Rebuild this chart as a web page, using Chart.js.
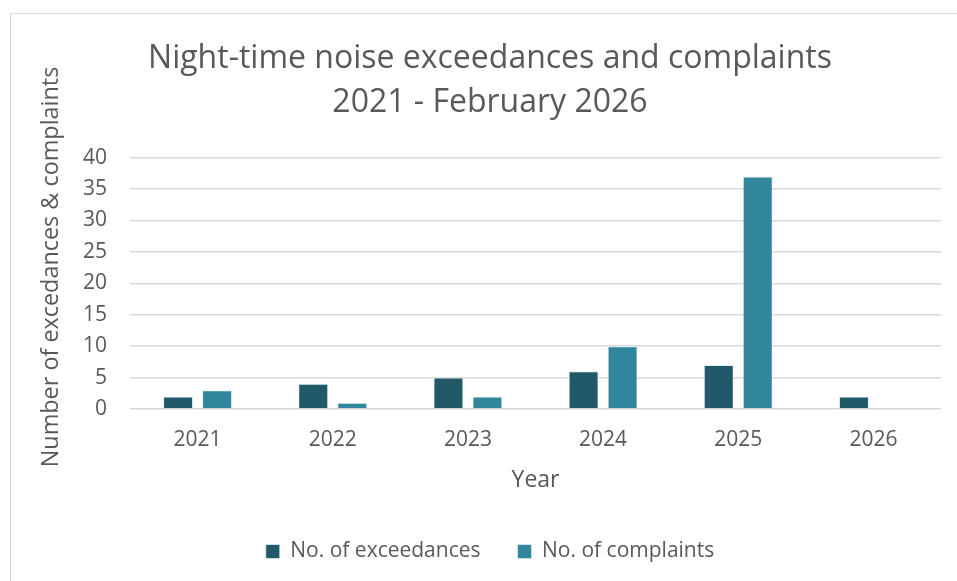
<!DOCTYPE html>
<html>
<head>
<meta charset="utf-8">
<script src="https://cdn.jsdelivr.net/npm/chart.js@4"></script>
<style>
  html, body { margin: 0; padding: 0; background: #ffffff; }
  #wrap { width: 957px; height: 581px; position: relative; }
</style>
</head>
<body>
<div id="wrap"><canvas id="c" width="957" height="581"></canvas></div>
<script>
const categories = ["2021", "2022", "2023", "2024", "2025", "2026"];
const exceedances = [2, 4, 5, 6, 7, 2];
const complaints = [3, 1, 2, 10, 37, 0];
const titleLines = ["Night-time noise exceedances and complaints", "2021 - February 2026"];
const yTitle = "Number of excedances & complaints";
const xTitle = "Year";
const seriesNames = ["No. of exceedances", "No. of complaints"];

const txt = "#595959";
const baseFont = "'Open Sans', 'DejaVu Sans', sans-serif";

const borderPlugin = {
  id: 'outerBorder',
  beforeDraw(chart) {
    const ctx = chart.ctx;
    ctx.save();
    ctx.fillStyle = '#ffffff';
    ctx.fillRect(0, 0, chart.width, chart.height);
    ctx.strokeStyle = '#d9d9d9';
    ctx.lineWidth = 1;
    ctx.strokeRect(10.5, 13.5, chart.width, chart.height);
    ctx.restore();
  }
};

// y-axis title, placed to the left of the y scale
const yTitlePlugin = {
  id: 'yAxisTitle',
  afterDraw(chart) {
    const ctx = chart.ctx;
    const sy = chart.scales.y;
    ctx.save();
    ctx.translate(sy.left + 12, 267);
    ctx.rotate(-Math.PI / 2);
    ctx.fillStyle = txt;
    ctx.font = "23.4px " + baseFont;
    ctx.textAlign = 'center';
    ctx.textBaseline = 'middle';
    ctx.fillText(yTitle, 0, 0);
    ctx.restore();
  }
};

new Chart(document.getElementById('c'), {
  type: 'bar',
  data: {
    labels: categories,
    datasets: [
      { label: seriesNames[0], data: exceedances, backgroundColor: '#215968', borderColor: 'rgba(220,235,240,0.8)', borderWidth: 1 },
      { label: seriesNames[1], data: complaints, backgroundColor: '#31859C', borderColor: 'rgba(220,235,240,0.8)', borderWidth: 1 }
    ]
  },
  plugins: [borderPlugin, yTitlePlugin],
  options: {
    responsive: false,
    animation: false,
    devicePixelRatio: 1,
    layout: { padding: { left: 39, right: 16, top: 13, bottom: 9 } },
    datasets: { bar: { categoryPercentage: 0.577, barPercentage: 0.77 } },
    plugins: {
      title: {
        display: true,
        text: titleLines,
        color: txt,
        font: { family: baseFont, size: 32, weight: 'normal', lineHeight: 1.4 },
        padding: { top: 23, bottom: 32 }
      },
      legend: {
        position: 'bottom',
        labels: {
          color: txt,
          font: { family: baseFont, size: 21 },
          boxWidth: 14,
          boxHeight: 14,
          padding: 37
        }
      },
      tooltip: { enabled: false }
    },
    scales: {
      x: {
        grid: { display: false, drawTicks: false },
        border: { display: false },
        ticks: { color: txt, font: { family: baseFont, size: 21 }, padding: 18.5 },
        title: { display: true, text: xTitle, color: txt, font: { family: baseFont, size: 23 }, padding: { top: 10, bottom: 10.2 } },
        afterFit(scale) { scale.height = 95; }
      },
      y: {
        min: 0, max: 40,
        ticks: { stepSize: 5, color: txt, font: { family: baseFont, size: 21 }, padding: 23 },
        grid: { color: '#d9d9d9', lineWidth: 1.5, drawTicks: false },
        border: { display: false },
        title: { display: false },
        afterFit(scale) { scale.width = 91; }
      }
    }
  }
});
</script>
</body>
</html>
